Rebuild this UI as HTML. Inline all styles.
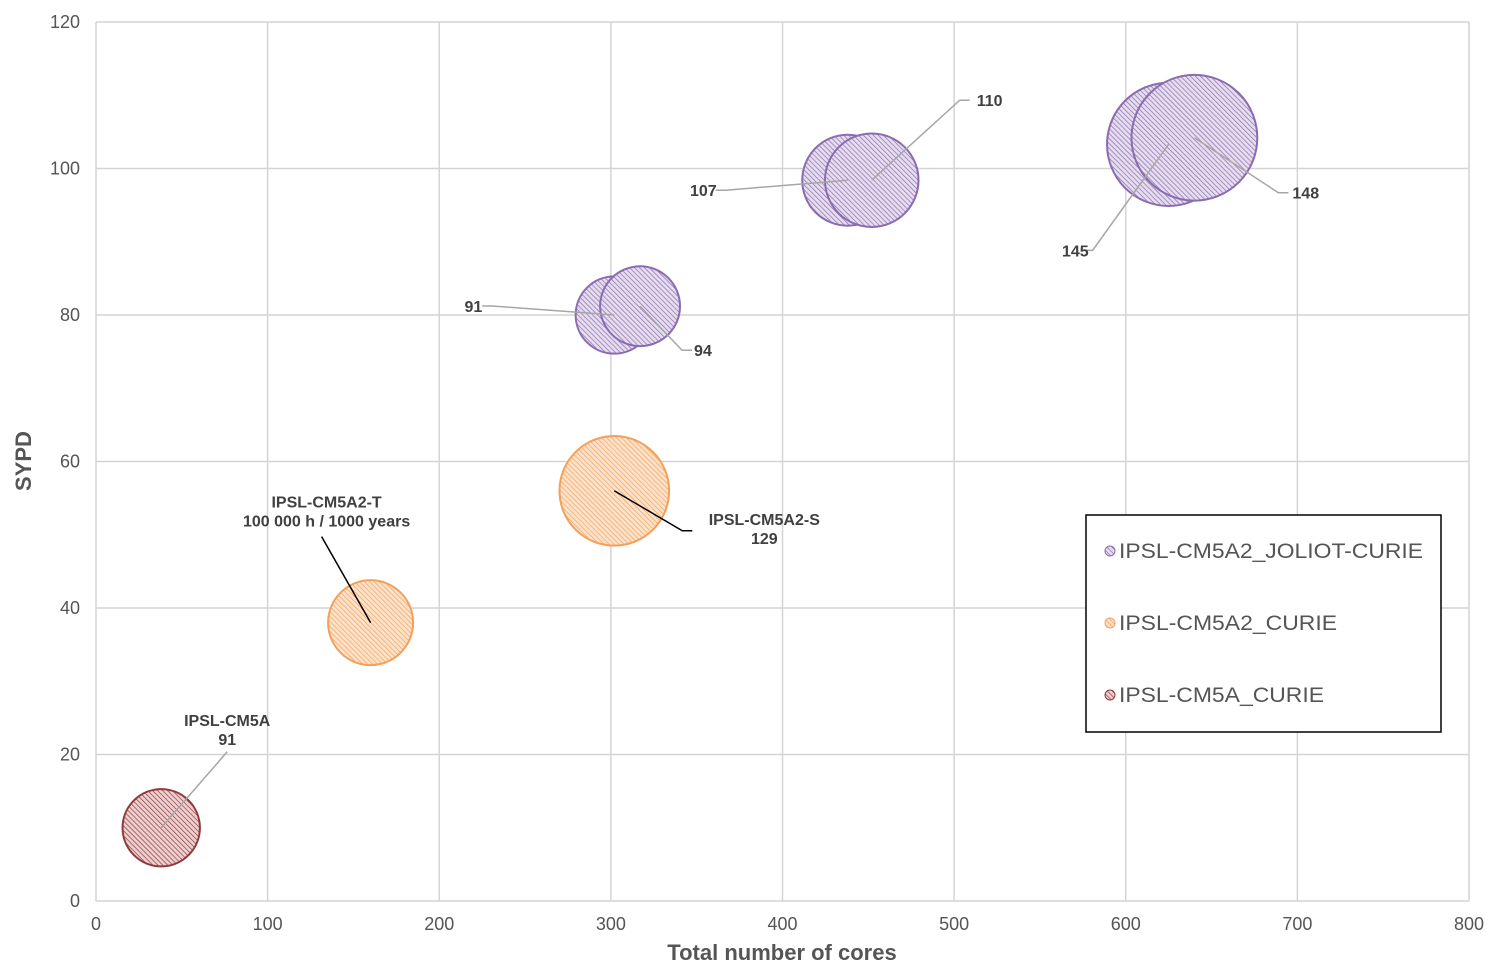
<!DOCTYPE html>
<html><head><meta charset="utf-8"><style>
body{margin:0;background:#fff;font-family:"Liberation Sans",Arial,sans-serif}
svg text{font-family:"Liberation Sans",Arial,sans-serif}
</style></head><body>
<svg id="chart" width="1500" height="975" xmlns="http://www.w3.org/2000/svg">
<defs>
<pattern id="hp" patternUnits="userSpaceOnUse" width="3.5" height="3.5" patternTransform="rotate(-45)"><rect width="3.5" height="3.5" fill="#e6deef"/><line x1="0" y1="0" x2="0" y2="3.5" stroke="#8a6cb0" stroke-width="1.4"/></pattern>
<pattern id="ho" patternUnits="userSpaceOnUse" width="3.5" height="3.5" patternTransform="rotate(-45)"><rect width="3.5" height="3.5" fill="#fde3cc"/><line x1="0" y1="0" x2="0" y2="3.5" stroke="#f5a05a" stroke-width="1.4"/></pattern>
<pattern id="hr" patternUnits="userSpaceOnUse" width="3.5" height="3.5" patternTransform="rotate(-45)"><rect width="3.5" height="3.5" fill="#efd0d0"/><line x1="0" y1="0" x2="0" y2="3.5" stroke="#8e3a3a" stroke-width="1.4"/></pattern>
</defs>
<g id="grid"></g><g id="bubbles"></g><g id="labels"></g>
<text x="782" y="960" text-anchor="middle" font-size="22" font-weight="bold" fill="#555">Total number of cores</text>
<text x="31" y="461" text-anchor="middle" font-size="22" font-weight="bold" fill="#555" transform="rotate(-90 31 461)">SYPD</text>
<g>
<rect x="1086" y="515" width="355" height="217" fill="#fff" stroke="#000" stroke-width="1.5"/>
<g><circle cx="1110" cy="551" r="5" fill="url(#hp)" stroke="#8a6cb0"/><text x="1119" y="558" font-size="21" fill="#555" textLength="304" lengthAdjust="spacingAndGlyphs">IPSL-CM5A2_JOLIOT-CURIE</text></g>
<g><circle cx="1110" cy="623" r="5" fill="url(#ho)" stroke="#f5a05a"/><text x="1119" y="630" font-size="21" fill="#555" textLength="218" lengthAdjust="spacingAndGlyphs">IPSL-CM5A2_CURIE</text></g>
<g><circle cx="1110" cy="695" r="5" fill="url(#hr)" stroke="#8e3a3a"/><text x="1119" y="702" font-size="21" fill="#555" textLength="205" lengthAdjust="spacingAndGlyphs">IPSL-CM5A_CURIE</text></g>
</g>
</svg>
<script>
const xTicks=[0,100,200,300,400,500,600,700,800];
const yTicks=[0,20,40,60,80,100,120];
const seriesNames=['joliot','joliot','joliot','joliot','joliot','joliot','cm5a2','cm5a2','cm5a'];
const coresX=[302,317,438,452,625,640,160,302,38];
const sypdY=[80,81.2,98.4,98.4,103.3,104.2,38,56,10];
const sizes=[91,94,107,110,145,148,100,129,91];
const labelText=['91','94','107','110','145','148','IPSL-CM5A2-T|100 000 h / 1000 years','IPSL-CM5A2-S|129','IPSL-CM5A|91'];
const X=v=>96+v*1373/800, Y=v=>901-v*879/120, R=s=>s*0.425;
const ns='http://www.w3.org/2000/svg';
function mk(t,a,p){const e=document.createElementNS(ns,t);for(const k in a)e.setAttribute(k,a[k]);p.appendChild(e);return e;}
const g=document.getElementById('grid');
xTicks.forEach(t=>{const l=mk('line',{x1:X(t),x2:X(t),y1:Y(120),y2:Y(0),stroke:'#d4d4d4','stroke-width':1.5},g);


const tx=mk('text',{x:X(t),y:930,'text-anchor':'middle','font-size':18,fill:'#555'},g);tx.textContent=t;

});
yTicks.forEach(t=>{const l=mk('line',{x1:X(0),x2:X(800),y1:Y(t),y2:Y(t),stroke:'#d4d4d4','stroke-width':1.5},g);


const tx=mk('text',{x:80,y:Y(t)+6,'text-anchor':'end','font-size':18,fill:'#555'},g);tx.textContent=t;

});
const fills={joliot:['url(#hp)','#8a6cb0'],cm5a2:['url(#ho)','#f5a05a'],cm5a:['url(#hr)','#8e3a3a']};
const bg=document.getElementById('bubbles');
coresX.forEach((c,i)=>{const f=fills[seriesNames[i]];
const e=mk('circle',{cx:X(c),cy:Y(sypdY[i]),r:R(sizes[i]),fill:f[0],stroke:f[1],'stroke-width':2},bg);

});
// annotation placement offsets: [textDx, textDy, anchor, lineEndDx, lineEndDy]
const lo=[[-132,-3,'end',-122,-9],[54,50,'start',42,44],[-131,16,'end',-122,10],[105,-74,'start',88,-80],[-80,112,'end',-76,106],[98,61,'start',84,55]];
const lg=document.getElementById('labels');
coresX.forEach((c,i)=>{const cx=X(c),cy=Y(sypdY[i]);
const black=(i==6||i==7);
let pts,tx0,ty0,anchor='middle';
if(i<6){const o=lo[i];const ex=cx+o[3],ey=cy+o[4];
pts=`${cx},${cy} ${ex},${ey} ${ex+(o[2]=='end'?-10:10)},${ey}`;
tx0=cx+o[0];ty0=cy+o[1];anchor=o[2];}
else if(i==6){pts=`${cx},${cy} ${cx-49},${cy-86}`;tx0=cx-44;ty0=cy-115;}
else if(i==7){pts=`${cx},${cy} ${cx+68},${cy+40} ${cx+78},${cy+40}`;tx0=cx+150;ty0=cy+34;}
else{pts=`${cx},${cy} ${cx+66},${cy-76}`;tx0=cx+66;ty0=cy-102;}
const pl=mk('polyline',{points:pts,fill:'none',stroke:black?'#000':'#a6a6a6','stroke-width':1.5},lg);


const parts=labelText[i].split('|');
const tx=mk('text',{x:tx0,y:ty0,'text-anchor':anchor,'font-size':16,'font-weight':'bold',fill:'#404040'},lg);


parts.forEach((p,k)=>{const ts=mk('tspan',{x:tx0,dy:k?19:0},tx);ts.textContent=p;});
});
</script>
</body></html>
